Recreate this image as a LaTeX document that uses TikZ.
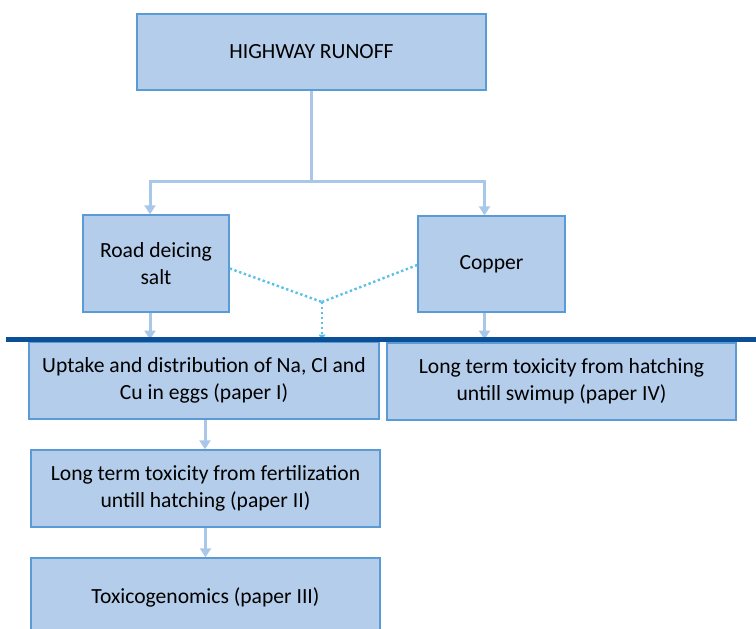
\documentclass[tikz,border=0pt]{standalone}
\usepackage{fontspec}
\setmainfont{Carlito}
\usetikzlibrary{arrows.meta}
\definecolor{boxfill}{HTML}{B4CDEA}
\definecolor{boxline}{HTML}{5B9BD5}
\definecolor{linkblue}{HTML}{A9C8E9}
\definecolor{dotblue}{HTML}{5BC0E8}
\definecolor{rulenavy}{HTML}{0A4F98}
\tikzset{
  stagebox/.style={draw=boxline, fill=boxfill, line width=1.4pt, inner sep=0pt,
    align=center, font=\fontsize{21.6}{27}\selectfont},
  linkline/.style={draw=linkblue, line width=3pt},
  flow/.style={linkline, -{Triangle[width=11pt,length=9pt]}},
  dotlink/.style={draw=dotblue, line width=2.4pt, dash pattern=on 2.4pt off 2.6pt},
}
\begin{document}
\begin{tikzpicture}[x=1pt,y=-1pt]
    \useasboundingbox (0,0) rectangle (756,629);
    % Source
    \node[stagebox, minimum width=349pt, minimum height=76pt] (runoff) at (311.5,52) {HIGHWAY RUNOFF};

    % Contaminants
    \node[stagebox, minimum width=146pt, minimum height=97pt] (salt) at (156,263.5) {Road deicing\\salt};
    \node[stagebox, minimum width=147pt, minimum height=96pt] (copper) at (491.5,264) {Copper};

    % Studies
    \node[stagebox, minimum width=350pt, minimum height=77pt] (uptake) at (204,380.5) {Uptake and distribution of Na, Cl and\\Cu in eggs (paper I)};
    \node[stagebox, minimum width=349pt, minimum height=77pt] (swimup) at (561.5,381.5) {Long term toxicity from hatching\\untill swimup (paper IV)};
    \node[stagebox, minimum width=349pt, minimum height=77pt] (fert) at (205.5,488.5) {Long term toxicity from fertilization\\untill hatching (paper II)};
    \node[stagebox, minimum width=349pt, minimum height=78pt] (genomics) at (205.5,597) {Toxicogenomics (paper III)};

    % Branching from runoff
    \draw[linkline] (runoff.south) -- ++(0,91) coordinate (split);
    \draw[flow] (split) -| ([xshift=-6pt]salt.north);
    \draw[flow] (split) -| ([xshift=-7pt]copper.north);

    % Combined effect (dotted)
    \coordinate (merge) at (322,302);
    \coordinate (ruleL) at (6,339.5);
    \coordinate (ruleR) at (756,339.5);
    \draw[dotlink] ([yshift=-5pt]salt.east) -- (merge);
    \draw[dotlink] ([yshift=-1pt]copper.west) -- (merge);
    \draw[dotlink, -{Triangle[width=7pt,length=5pt]}] (merge) -- (merge |- ruleL);

    % Down to the studies
    \draw[flow] ([xshift=-6pt]salt.south) -- ([xshift=-6pt]salt.south |- ruleL);
    \draw[flow] ([xshift=-7pt]copper.south) -- ([xshift=-7pt]copper.south |- ruleL);
    \draw[flow] ([xshift=1pt]uptake.south) -- ([xshift=1pt]uptake.south |- fert.north);
    \draw[flow] (fert.south) -- (fert.south |- genomics.north);

    % Divider
    \draw[rulenavy, line width=5.5pt] (ruleL) -- (ruleR);
\end{tikzpicture}
\end{document}
